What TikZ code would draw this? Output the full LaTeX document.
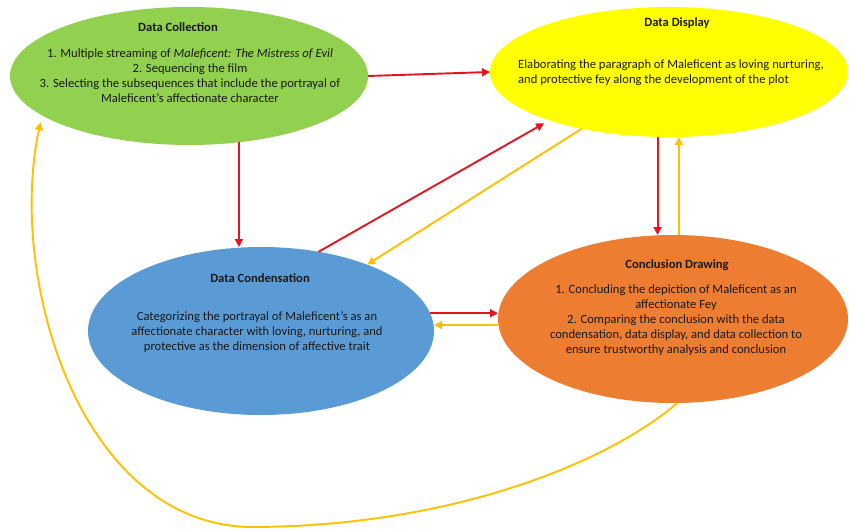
\documentclass[tikz,border=0pt]{standalone}
\usepackage{fontspec}
\setmainfont{Carlito}
\usetikzlibrary{shapes.geometric,arrows.meta}
\definecolor{cgreen}{RGB}{146,208,80}
\definecolor{cyellow}{RGB}{255,255,0}
\definecolor{cblue}{RGB}{91,155,213}
\definecolor{corange}{RGB}{237,125,49}
\definecolor{cred}{RGB}{226,22,34}
\definecolor{cgold}{RGB}{255,192,0}
\definecolor{ctext}{RGB}{25,25,25}
\begin{document}
\begin{tikzpicture}[x=1pt,y=-1pt,
  ell/.style={ellipse,draw=none,inner sep=0pt,outer sep=0pt},
  ttl/.style={font=\fontsize{12.6}{15}\selectfont\bfseries,text=ctext,inner sep=0pt},
  bodytxt/.style={font=\fontsize{12.6}{15}\selectfont,text=ctext,inner sep=0pt},
  redarr/.style={draw=cred,line width=1.9pt,-{Triangle[length=8pt,width=8pt]}},
  yelarr/.style={draw=cgold,line width=1.9pt,-{Triangle[length=8pt,width=8pt]}}]
\useasboundingbox (0,0) rectangle (850,529);
\fill[white] (0,0) rectangle (850,529);

% ellipses
\node[ell,fill=cgreen,minimum width=358pt,minimum height=138pt] (green) at (189,76) {};
\node[ell,fill=cyellow,minimum width=358pt,minimum height=130pt] (yellow) at (669,72) {};
\node[ell,fill=cblue,minimum width=346pt,minimum height=168pt] (blue) at (261,331) {};
\node[ell,fill=corange,minimum width=350pt,minimum height=168pt] (orange) at (673,319) {};

% texts
\node[ttl] (greent) at (178,27) {Data Collection};
\node[bodytxt,align=center] (greenb) at (190,76) {1. Multiple streaming of \textit{Maleficent: The Mistress of Evil}\\2. Sequencing the film\\3. Selecting the subsequences that include the portrayal of\\Maleficent’s affectionate character};

\node[ttl] (yellowt) at (677,23) {Data Display};
\node[bodytxt,align=left,anchor=west] (yellowb) at (518,72.5) {Elaborating the paragraph of Maleficent as loving nurturing,\\and protective fey along the development of the plot};

\node[ttl] (bluet) at (260,278) {Data Condensation};
\node[bodytxt,align=center] (blueb) at (257,332) {Categorizing the portrayal of Maleficent’s as an\\affectionate character with loving, nurturing, and\\protective as the dimension of affective trait};

\node[ttl] (oranget) at (677,265) {Conclusion Drawing};
\node[bodytxt,align=center] (orangeb) at (676,320.5) {1. Concluding the depiction of Maleficent as an\\affectionate Fey\\2. Comparing the conclusion with the data\\condensation, data display, and data collection to\\ensure trustworthy analysis and conclusion};

% connectors
\draw[redarr] (green.east) -- (yellow.west);
\draw[redarr] (green.-53.4) -- (green.-53.4 |- blue.north);
\draw[redarr,shorten >=6pt] (blue.54.2) -- (yellow.202.5);
\draw[yelarr] (yellow.213.5) -- (blue.32);
\draw[redarr] (yellow.260.6) -- (yellow.260.6 |- orange.north);
\draw[yelarr] (orange.86.9) -- (orange.86.9 |- yellow.south);
\draw[redarr] (blue.6.4) -- (blue.6.4 -| orange.west);
\draw[yelarr] (orange.182.3) -- (orange.182.3 -| blue.east);

\coordinate (loopbot) at (250,527);
\draw[yelarr,shorten >=7pt] (orange.-87.3) .. controls +(-70,60) and +(200,0) .. (loopbot)
  .. controls +(-170,-3) and +(-35,163) .. (green.195.9);
\end{tikzpicture}
\end{document}
